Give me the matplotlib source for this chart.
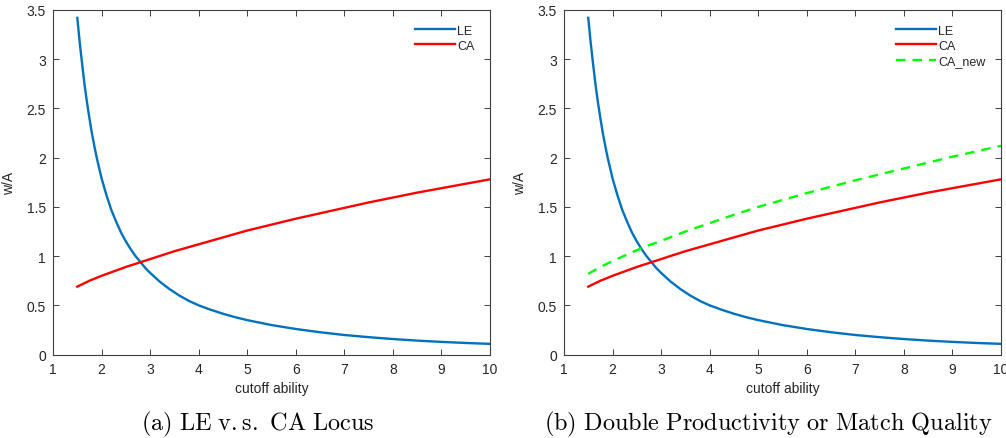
import matplotlib
matplotlib.use("Agg")
import matplotlib.pyplot as plt

# ---- data ----
le_x = [1.5, 1.55, 1.6, 1.65, 1.7, 1.75, 1.8, 1.85, 1.9, 2.0, 2.1, 2.2, 2.3, 2.4, 2.5,
        2.6, 2.7, 2.8, 2.9, 3.0, 3.2, 3.4, 3.6, 3.8, 4.0, 4.25, 4.5, 4.75, 5.0, 5.5,
        6.0, 6.5, 7.0, 7.5, 8.0, 8.5, 9.0, 9.5, 10.0]
le_y = [3.42, 3.17, 2.95, 2.74, 2.56, 2.40, 2.25, 2.12, 2.00, 1.79, 1.62, 1.47, 1.35,
        1.24, 1.15, 1.07, 1.00, 0.94, 0.88, 0.83, 0.74, 0.665, 0.60, 0.545, 0.50,
        0.455, 0.415, 0.38, 0.35, 0.30, 0.26, 0.227, 0.199, 0.177, 0.158, 0.142,
        0.129, 0.118, 0.109]

ca_x = [1.5, 1.75, 2.0, 2.25, 2.5, 2.75, 3.0, 3.5, 4.0, 4.5, 5.0, 5.5, 6.0, 6.5, 7.0,
        7.5, 8.0, 8.5, 9.0, 9.5, 10.0]
ca_y = [0.69, 0.75, 0.80, 0.845, 0.89, 0.93, 0.97, 1.05, 1.12, 1.19, 1.26, 1.32, 1.38,
        1.435, 1.49, 1.545, 1.595, 1.645, 1.69, 1.735, 1.78]

ca_new_x = [1.5, 1.75, 2.0, 2.25, 2.5, 2.75, 3.0, 3.5, 4.0, 4.5, 5.0, 5.5, 6.0, 6.5,
            7.0, 7.5, 8.0, 8.5, 9.0, 9.5, 10.0]
ca_new_y = [0.82, 0.89, 0.95, 1.005, 1.06, 1.11, 1.155, 1.25, 1.335, 1.42, 1.50, 1.57,
            1.64, 1.705, 1.77, 1.83, 1.89, 1.95, 2.01, 2.065, 2.12]

x_ticks = [1, 2, 3, 4, 5, 6, 7, 8, 9, 10]
y_ticks = [0, 0.5, 1, 1.5, 2, 2.5, 3, 3.5]
y_tick_labels = ["0", "0.5", "1", "1.5", "2", "2.5", "3", "3.5"]
caption_a = r"$\mathrm{(a)\ LE\ v{.}s{.}\ CA\ Locus}$"
caption_b = r"$\mathrm{(b)\ Double\ Productivity\ or\ Match\ Quality}$"

plt.rcParams["font.family"] = ["Liberation Sans", "DejaVu Sans"]
plt.rcParams["mathtext.fontset"] = "cm"

BLUE = "#0072BD"
RED = "#FF0000"
GREEN = "#00FF00"
AX_COL = "#404040"
TXT_COL = "#262626"

fig = plt.figure(figsize=(10.06, 4.39), dpi=100)
ax_a = fig.add_axes([0.0527, 0.190, 0.4344, 0.785])
ax_b = fig.add_axes([0.5606, 0.190, 0.4344, 0.785])


def style(ax):
    ax.set_xlim(1, 10)
    ax.set_ylim(0, 3.5)
    ax.set_xticks(x_ticks)
    ax.set_yticks(y_ticks)
    ax.set_yticklabels(y_tick_labels)
    ax.tick_params(direction="in", top=True, right=True, length=4, width=0.7,
                   colors=AX_COL, labelcolor=TXT_COL, labelsize=10, pad=5)
    for s in ax.spines.values():
        s.set_color(AX_COL)
        s.set_linewidth(0.8)
    ax.set_xlabel("cutoff ability", fontsize=10, color=TXT_COL, labelpad=4)
    ax.set_ylabel("w/A", fontsize=10, color=TXT_COL, labelpad=8)


for ax in (ax_a, ax_b):
    ax.plot(le_x, le_y, color=BLUE, lw=1.7, label="LE")
    ax.plot(ca_x, ca_y, color=RED, lw=1.7, label="CA")

ax_b.plot(ca_new_x, ca_new_y, color=GREEN, lw=1.7, ls=(0, (4, 3)), label="CA_new")

for ax in (ax_a, ax_b):
    style(ax)
    leg = ax.legend(loc="upper right", frameon=False, fontsize=9, handlelength=3.2,
                    handletextpad=0.2, labelspacing=0.25, borderaxespad=0.5,
                    bbox_to_anchor=(0.99, 0.99))
    for t in leg.get_texts():
        t.set_color(TXT_COL)

fig.text(258 / 1006, 1 - 424 / 439, caption_a, ha="center", va="center", fontsize=17.5)
fig.text(768 / 1006, 1 - 424 / 439, caption_b, ha="center", va="center", fontsize=17.5)

fig.savefig("out.png", dpi=100)
